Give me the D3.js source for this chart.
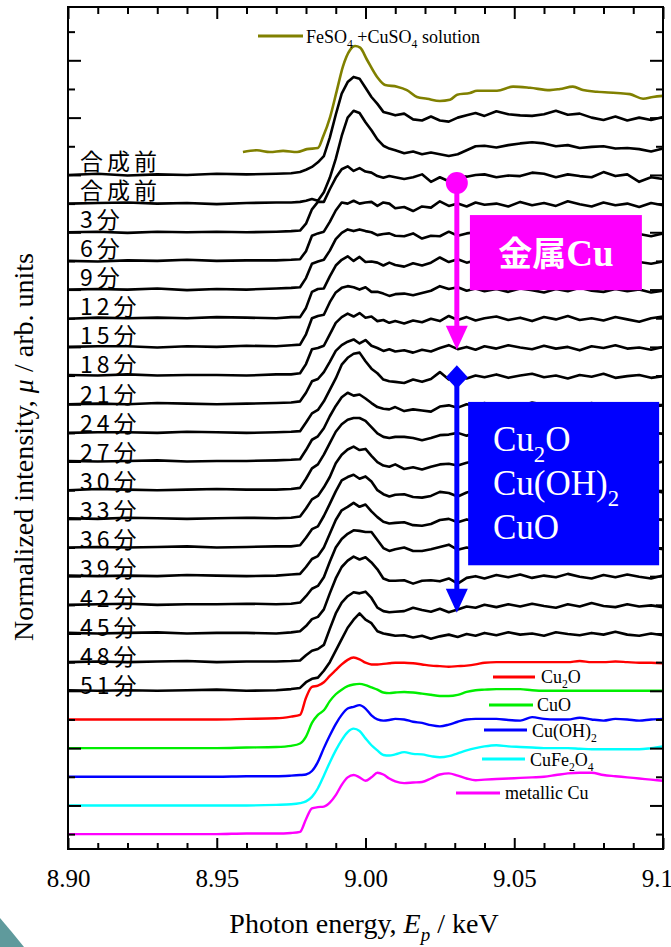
<!DOCTYPE html>
<html>
<head>
<meta charset="utf-8">
<script src="https://cdn.jsdelivr.net/npm/d3@7"></script>
<style>
body { margin: 0; background: #fff; }
svg { display: block; }
</style>
</head>
<body>
<svg width="671" height="947"></svg>
<script>
// energy grid (keV) shared by the stacked spectra
var energy = [8.900, 8.910, 8.920, 8.930, 8.940, 8.950, 8.960, 8.970, 8.975,
  8.978, 8.980, 8.982, 8.984, 8.986, 8.988, 8.990, 8.992, 8.994, 8.996, 8.998, 9.000, 9.002, 9.004, 9.006, 9.008, 9.010,
  9.013, 9.016, 9.019, 9.022, 9.025, 9.028, 9.031, 9.034, 9.037, 9.040, 9.044, 9.048, 9.052, 9.056, 9.060, 9.064,
  9.068, 9.072, 9.076, 9.080, 9.084, 9.088, 9.092, 9.096, 9.100];

// time-resolved spectra (normalized, before stacking)
var pre1 = [0.00, 0.02, -0.01, 0.01, 0.00, 0.02, 0.01, 0.02, 0.03,
  0.05, 0.09, 0.14, 0.22, 0.33, 0.65, 1.05, 1.42, 1.62, 1.71, 1.68, 1.52, 1.36, 1.24, 1.10, 1.07, 1.04,
  1.07, 0.97, 0.95, 1.02, 0.95, 0.93, 1.00, 1.04, 1.08, 1.03, 1.11, 1.06, 1.04, 1.03, 1.06, 1.12, 1.05, 1.07, 1.00, 0.96, 1.02, 0.95, 1.00, 0.96, 1.01];
var pre2 = [0.00, 0.01, 0.02, 0.00, 0.01, -0.01, 0.01, 0.02, 0.02,
  0.03, 0.05, 0.08, 0.05, 0.20, 0.45, 0.78, 1.18, 1.50, 1.62, 1.58, 1.42, 1.28, 1.12, 1.01, 0.96, 0.93,
  0.88, 0.91, 0.86, 0.89, 0.86, 0.83, 0.86, 0.93, 1.00, 1.01, 0.98, 1.02, 1.05, 1.07, 1.05, 1.00, 1.02, 0.97, 0.99, 1.00, 0.96, 0.97, 0.95, 0.91, 0.96];
var t3 = [0.00, 0.01, -0.01, 0.01, 0.00, 0.01, 0.00, 0.01, 0.02,
  0.03, 0.15, 0.40, 0.53, 0.53, 0.75, 0.95, 1.10, 1.15, 1.07, 1.12, 1.06, 1.04, 0.98, 0.95, 0.98, 0.96,
  0.93, 0.96, 1.01, 0.88, 0.96, 0.89, 0.98, 0.97, 1.00, 1.01, 0.96, 0.99, 0.98, 1.04, 1.02, 0.96, 1.01, 0.98, 0.96, 1.05, 0.98, 1.01, 0.88, 0.96, 0.93];
var t6 = [0.00, -0.01, 0.01, 0.00, 0.02, 0.00, 0.01, 0.01, 0.02,
  0.03, 0.17, 0.44, 0.48, 0.51, 0.68, 0.88, 1.02, 1.00, 1.05, 1.00, 1.02, 1.03, 0.96, 1.02, 1.00, 0.92,
  0.94, 0.87, 0.95, 0.93, 1.04, 0.96, 1.00, 0.95, 1.02, 0.98, 1.00, 0.95, 1.03, 0.97, 1.01, 0.96, 1.04, 0.99, 0.95, 1.02, 0.97, 1.00, 0.94, 1.01, 0.97];
var t9 = [0.00, 0.01, 0.00, 0.02, -0.01, 0.01, 0.00, 0.02, 0.03,
  0.04, 0.20, 0.45, 0.49, 0.52, 0.68, 0.88, 0.99, 1.05, 1.02, 1.05, 1.02, 1.00, 0.95, 0.97, 0.98, 0.94,
  0.93, 0.98, 0.89, 0.94, 0.93, 1.01, 0.94, 0.98, 1.00, 0.96, 1.02, 0.97, 1.00, 0.95, 1.03, 0.98, 0.96, 1.02, 0.97, 1.00, 0.95, 1.01, 0.97, 0.93, 0.98];
var t12 = [-0.01, 0.01, 0.00, 0.01, 0.00, 0.02, 0.01, 0.00, 0.02,
  0.02, 0.18, 0.46, 0.51, 0.52, 0.73, 0.92, 1.02, 1.08, 1.00, 1.07, 0.98, 0.99, 0.97, 0.92, 0.97, 0.93,
  0.90, 0.96, 0.92, 0.97, 1.06, 0.98, 1.03, 0.97, 1.01, 0.96, 1.00, 0.97, 1.03, 0.98, 1.01, 0.95, 1.00, 1.03, 0.97, 1.00, 0.96, 1.02, 0.98, 0.95, 0.99];
var t15 = [0.00, 0.01, 0.01, -0.01, 0.01, 0.00, 0.02, 0.01, 0.03,
  0.04, 0.22, 0.50, 0.54, 0.56, 0.78, 0.95, 1.03, 1.06, 1.04, 1.00, 1.04, 0.96, 0.96, 0.93, 0.89, 0.92,
  0.93, 0.90, 0.94, 0.98, 1.06, 1.01, 1.04, 0.98, 1.02, 0.97, 1.01, 0.96, 1.02, 0.99, 0.95, 1.01, 0.97, 1.03, 0.98, 0.96, 1.01, 0.97, 1.00, 0.95, 0.98];
var t18 = [0.01, 0.00, 0.02, 0.00, 0.01, 0.01, 0.00, 0.02, 0.02,
  0.04, 0.20, 0.46, 0.48, 0.52, 0.72, 0.92, 1.02, 1.08, 1.03, 1.09, 1.01, 1.03, 0.95, 0.97, 0.92, 0.95,
  0.91, 0.96, 0.93, 0.99, 0.95, 1.04, 0.97, 1.02, 0.96, 1.00, 1.03, 0.97, 1.01, 0.95, 1.02, 0.98, 1.04, 0.97, 1.00, 0.96, 1.02, 0.98, 0.94, 1.00, 1.03];
var t21 = [0.00, 0.01, 0.00, 0.02, 0.01, 0.00, 0.01, 0.02, 0.03,
  0.05, 0.20, 0.40, 0.44, 0.56, 0.74, 0.93, 1.03, 1.09, 1.13, 1.06, 1.12, 1.02, 0.98, 0.93, 0.96, 0.92,
  0.94, 0.90, 0.95, 0.92, 0.98, 1.03, 0.96, 1.00, 0.95, 1.01, 0.97, 1.03, 0.99, 0.96, 1.02, 0.97, 1.00, 0.94, 1.01, 0.98, 1.03, 0.97, 0.99, 0.95, 1.00];
var t24 = [0.00, 0.01, 0.01, 0.00, 0.02, 0.01, 0.00, 0.01, 0.02,
  0.03, 0.18, 0.34, 0.40, 0.55, 0.75, 0.95, 1.19, 1.31, 1.38, 1.40, 1.25, 1.12, 1.04, 0.93, 0.90, 0.89,
  0.87, 0.93, 0.89, 0.94, 1.06, 0.93, 0.98, 0.95, 1.00, 0.97, 1.02, 0.96, 1.00, 1.03, 0.97, 1.00, 0.95, 1.01, 0.98, 1.03, 0.96, 0.99, 1.01, 0.96, 0.99];
var t27 = [0.01, 0.00, 0.01, 0.02, 0.00, 0.01, 0.01, 0.02, 0.03,
  0.04, 0.20, 0.38, 0.44, 0.58, 0.79, 0.97, 1.12, 1.20, 1.15, 1.17, 1.10, 1.02, 0.95, 0.92, 0.91, 0.95,
  0.88, 0.91, 0.89, 0.87, 0.96, 0.98, 0.94, 1.00, 0.97, 1.02, 0.96, 1.01, 0.97, 1.03, 0.99, 0.95, 1.01, 0.97, 1.02, 0.96, 1.00, 0.97, 1.01, 0.96, 0.98];
var t30 = [0.00, 0.02, 0.01, 0.00, 0.01, 0.02, 0.01, 0.01, 0.02,
  0.04, 0.20, 0.38, 0.45, 0.62, 0.82, 1.02, 1.15, 1.23, 1.26, 1.26, 1.21, 1.10, 0.99, 0.93, 0.91, 0.93,
  0.93, 0.91, 0.87, 0.91, 0.96, 0.97, 1.00, 0.95, 1.01, 0.98, 1.03, 0.97, 1.00, 0.96, 1.02, 0.99, 1.03, 0.97, 1.00, 0.95, 1.01, 0.98, 0.96, 1.01, 0.98];
var t33 = [0.01, 0.00, 0.02, 0.01, 0.00, 0.01, 0.02, 0.01, 0.02,
  0.04, 0.18, 0.34, 0.40, 0.55, 0.73, 0.97, 1.12, 1.21, 1.26, 1.20, 1.22, 1.10, 0.99, 0.93, 0.91, 0.95,
  0.87, 0.90, 0.86, 0.91, 0.95, 0.96, 0.93, 0.98, 1.01, 0.96, 1.02, 0.98, 1.03, 0.97, 1.00, 0.96, 1.02, 0.98, 0.95, 1.01, 0.97, 1.02, 0.98, 0.95, 1.00];
var t36 = [0.00, 0.01, 0.00, 0.01, 0.02, 0.00, 0.01, 0.02, 0.02,
  0.04, 0.17, 0.32, 0.37, 0.55, 0.76, 0.98, 1.17, 1.23, 1.27, 1.20, 1.24, 1.15, 1.00, 0.93, 0.89, 0.92,
  0.93, 0.88, 0.87, 0.90, 0.97, 0.95, 0.89, 0.96, 1.00, 0.97, 1.02, 0.96, 1.00, 1.03, 0.97, 1.01, 0.96, 1.02, 0.98, 1.00, 0.95, 1.01, 0.97, 1.00, 0.96];
var t39 = [0.01, 0.00, 0.01, 0.00, 0.02, 0.01, 0.00, 0.01, 0.03,
  0.04, 0.16, 0.30, 0.35, 0.50, 0.74, 0.98, 1.15, 1.21, 1.28, 1.21, 1.25, 1.13, 1.03, 0.95, 0.92, 0.93,
  0.94, 0.89, 0.88, 0.91, 0.98, 1.00, 0.94, 0.99, 0.96, 1.02, 0.98, 1.01, 0.96, 1.00, 1.03, 0.97, 1.01, 0.96, 1.00, 0.97, 1.02, 0.98, 0.95, 1.00, 0.98];
var t42 = [0.00, 0.01, 0.02, 0.00, 0.01, 0.01, 0.02, 0.01, 0.02,
  0.04, 0.15, 0.28, 0.33, 0.48, 0.75, 1.00, 1.15, 1.24, 1.30, 1.29, 1.27, 1.27, 1.13, 0.99, 0.94, 0.97,
  1.00, 0.94, 0.94, 0.97, 1.01, 1.05, 0.96, 1.00, 0.97, 1.02, 0.98, 1.03, 0.97, 1.00, 0.96, 1.02, 0.99, 1.03, 0.97, 1.00, 0.96, 1.02, 0.98, 1.00, 0.97];
var t45 = [0.01, 0.00, 0.01, 0.02, 0.00, 0.01, 0.01, 0.00, 0.02,
  0.04, 0.13, 0.25, 0.29, 0.42, 0.70, 0.96, 1.16, 1.27, 1.34, 1.29, 1.33, 1.24, 1.12, 0.96, 0.92, 0.92,
  0.93, 0.87, 0.92, 0.93, 0.91, 0.96, 0.87, 0.97, 1.00, 0.96, 1.02, 0.98, 1.03, 0.97, 1.01, 0.98, 1.04, 0.99, 0.96, 1.02, 0.98, 1.03, 0.99, 0.96, 1.01];
var t48 = [0.00, 0.01, 0.00, 0.01, 0.02, 0.00, 0.01, 0.01, 0.02,
  0.03, 0.12, 0.20, 0.23, 0.30, 0.58, 0.85, 1.04, 1.15, 1.22, 1.20, 1.23, 1.12, 0.95, 0.89, 0.87, 0.88,
  0.89, 0.95, 0.91, 0.88, 0.93, 0.87, 0.92, 0.97, 0.95, 1.00, 0.96, 1.01, 0.97, 1.02, 0.98, 0.95, 1.01, 0.97, 1.03, 0.98, 0.96, 1.01, 0.97, 0.99, 0.96];
var t51 = [0.01, 0.00, 0.01, 0.00, 0.01, 0.02, 0.00, 0.01, 0.03,
  0.05, 0.15, 0.21, 0.23, 0.35, 0.50, 0.70, 0.90, 1.10, 1.24, 1.35, 1.24, 1.18, 1.04, 1.00, 0.98, 0.96,
  0.97, 0.93, 0.96, 0.91, 0.95, 0.98, 0.94, 0.99, 0.96, 1.01, 0.97, 1.02, 0.98, 1.00, 0.96, 1.02, 0.99, 0.97, 1.01, 0.98, 1.03, 0.98, 0.96, 1.00, 0.97];

var sampleSeries = [pre1, pre2, t3, t6, t9, t12, t15, t18, t21, t24, t27, t30, t33, t36, t39, t42, t45, t48, t51];
var sampleLabels = ["合成前", "合成前", "3分", "6分", "9分", "12分", "15分", "18分", "21分", "24分",
  "27分", "30分", "33分", "36分", "39分", "42分", "45分", "48分", "51分"];
var sampleOffsets = [11, 10.5, 10, 9.5, 9, 8.5, 8, 7.5, 7, 6.5, 6, 5.5, 5, 4.5, 4, 3.5, 3, 2.5, 2];

// reference compounds
var cu2o = [0, 0, 0, 0, 0, 0, 0.01, 0.02, 0.05,
  0.08, 0.38, 0.57, 0.59, 0.65, 0.76, 0.86, 0.96, 1.04, 1.08, 1.05, 0.99, 0.96, 0.96, 0.97, 0.98, 0.99,
  0.99, 0.98, 0.96, 0.94, 0.93, 0.92, 0.93, 0.94, 0.96, 0.99, 1.00, 1.00, 1.00, 1.00, 1.00, 1.00, 1.00, 1.02, 1.00, 1.00, 1.01, 1.00, 0.99, 0.99, 0.98];
var cuo = [0, 0, 0, 0, 0, 0, 0.01, 0.02, 0.04,
  0.08, 0.20, 0.44, 0.58, 0.66, 0.82, 0.94, 1.02, 1.08, 1.11, 1.12, 1.10, 1.06, 1.02, 0.97, 0.96, 0.97,
  0.98, 0.97, 0.95, 0.93, 0.91, 0.91, 0.93, 0.98, 1.01, 1.02, 1.03, 1.03, 1.03, 1.01, 1.00, 1.00, 1.00, 1.00, 1.00, 1.00, 1.00, 1.00, 1.00, 1.00, 1.00];
var cuoh2 = [0, 0, 0, 0, 0, 0, 0.01, 0.01, 0.02,
  0.03, 0.04, 0.10, 0.26, 0.50, 0.72, 0.92, 1.08, 1.19, 1.22, 1.25, 1.19, 1.07, 1.00, 0.98, 0.99, 1.01,
  1.00, 0.96, 0.94, 0.90, 0.88, 0.91, 0.96, 1.00, 1.01, 1.01, 1.01, 0.99, 0.98, 1.04, 1.01, 1.00, 1.00, 1.03, 1.00, 0.98, 1.01, 1.00, 0.98, 1.00, 1.01];
var cufe2o4 = [0, 0, 0, 0, 0, 0, 0, 0.01, 0.02,
  0.04, 0.07, 0.15, 0.30, 0.52, 0.75, 0.96, 1.14, 1.28, 1.34, 1.30, 1.17, 1.05, 0.96, 0.88, 0.87, 0.89,
  0.93, 0.90, 0.89, 0.86, 0.84, 0.86, 0.91, 0.96, 1.00, 1.03, 1.05, 1.03, 1.02, 1.01, 1.00, 1.00, 1.00, 0.99, 0.98, 0.98, 0.98, 0.98, 0.98, 1.00, 1.03];
var cuMetal = [0, 0, 0, 0, 0, 0, 0.01, 0.01, 0.02,
  0.04, 0.26, 0.45, 0.47, 0.48, 0.55, 0.68, 0.86, 0.99, 1.03, 0.99, 0.93, 0.99, 1.07, 1.04, 0.97, 0.92,
  0.89, 0.90, 0.91, 0.97, 1.04, 1.06, 1.02, 0.97, 0.94, 0.95, 0.96, 0.97, 0.98, 0.99, 1.00, 1.03, 1.06, 1.07, 1.07, 1.03, 1.01, 0.99, 0.97, 0.95, 0.93];

var refSeries = [cu2o, cuo, cuoh2, cufe2o4, cuMetal];
var refNames = ["Cu_2O", "CuO", "Cu(OH)_2", "CuFe_2O_4", "metallic Cu"];
var refColors = ["#ff0000", "#00ee00", "#0000ff", "#00ffff", "#ff00ff"];
var refOffsets = [1.5, 1, 0.5, 0, -0.5];

// FeSO4 + CuSO4 solution
var feEnergy = [8.9588, 8.9635, 8.9679, 8.9723, 8.9770, 8.9803, 8.9840, 8.9857, 8.9881, 8.9904,
  8.9924, 8.9948, 8.9965, 8.9982, 9.0005, 9.0039, 9.0066, 9.0106, 9.0139, 9.0173,
  9.0207, 9.0250, 9.0284, 9.0308, 9.0351, 9.0375, 9.0442, 9.0496, 9.0553, 9.0620,
  9.0654, 9.0697, 9.0731, 9.0778, 9.0845, 9.0889, 9.0933, 9.0966, 9.1000];
var feSolution = [0.00, 0.03, 0.00, 0.02, 0.00, 0.05, 0.07, 0.26, 0.61, 1.08,
  1.49, 1.78, 1.85, 1.82, 1.61, 1.31, 1.17, 1.14, 1.08, 0.96,
  0.93, 0.89, 0.91, 1.00, 1.03, 1.07, 1.07, 1.14, 1.12, 1.08,
  1.10, 1.14, 1.08, 1.05, 1.03, 1.01, 0.93, 0.96, 0.98];
var feOffset = 11.4;

var xMajor = [8.90, 8.95, 9.00, 9.05, 9.10];

var serif = "'Liberation Serif', 'Times New Roman', serif";
var cjk = "'Noto Sans CJK JP', 'Noto Sans CJK SC', sans-serif";

var svg = d3.select("svg");

var x = d3.scaleLinear().domain([8.90, 9.10]).range([68, 663]);
var y = d3.scaleLinear().domain([-0.76, 13.93]).range([849, 7]);

function lineFor(off, xs, curve) {
  return d3.line()
    .x(function(d, i) { return x(xs[i]); })
    .y(function(d) { return y(d + off); })
    .curve(curve);
}

// text with _x subscripts
function richText(sel, str, size) {
  var parts = str.split(/(_.)/);
  var down = false;
  parts.forEach(function(p) {
    if (!p) return;
    if (p[0] === "_") {
      sel.append("tspan").attr("dy", down ? 0 : size * 0.3).attr("font-size", size * 0.65).text(p[1]);
      down = true;
    } else {
      sel.append("tspan").attr("dy", down ? -size * 0.3 : 0).text(p);
      down = false;
    }
  });
}

// decoration bottom-left
svg.append("path")
  .attr("d", "M0,918 Q12,932 24,947 L0,947 Z")
  .attr("fill", "#5f9a9c");

// reference spectra
refSeries.forEach(function(s, i) {
  svg.append("path")
    .datum(s)
    .attr("fill", "none")
    .attr("stroke", refColors[i])
    .attr("stroke-width", 2.4)
    .attr("d", lineFor(refOffsets[i], energy, d3.curveMonotoneX));
});

// sample spectra
sampleSeries.forEach(function(s, i) {
  svg.append("path")
    .datum(s)
    .attr("fill", "none")
    .attr("stroke", "#000")
    .attr("stroke-width", 2.6)
    .attr("stroke-linejoin", "round")
    .attr("d", lineFor(sampleOffsets[i], energy, d3.curveLinear));
});

svg.append("path")
  .datum(feSolution)
  .attr("fill", "none")
  .attr("stroke", "#808000")
  .attr("stroke-width", 2.6)
  .attr("d", lineFor(feOffset, feEnergy, d3.curveMonotoneX));

// sample labels
var labelY = d3.scaleLinear().domain([0, sampleLabels.length - 1]).range([169.5, 694]);
svg.append("g").selectAll("text")
  .data(sampleLabels)
  .enter().append("text")
  .attr("x", 80)
  .attr("y", function(d, i) { return labelY(i); })
  .attr("font-family", cjk)
  .attr("font-size", 23)
  .attr("letter-spacing", 4)
  .attr("fill", "#000")
  .text(function(d) { return d; });

// axes (ticks pointing inward)
function styleAxis(g) {
  g.select(".domain").remove();
  g.selectAll(".tick line").attr("stroke", "#000").attr("stroke-width", 2);
}
var xMinor = d3.range(8.90, 9.1001, 0.01).filter(function(v) {
  return xMajor.every(function(m) { return Math.abs(m - v) > 1e-6; });
});
var yMajor = d3.range(0, 14, 1);
var yMinor = d3.range(-0.5, 14, 1);

var bottom = svg.append("g").attr("transform", "translate(0,849)")
  .call(d3.axisBottom(x).tickValues(xMajor).tickSizeInner(-11).tickSizeOuter(0).tickPadding(20)
    .tickFormat(d3.format(".2f")))
  .call(styleAxis);
bottom.attr("font-family", serif).attr("font-size", 25);
bottom.selectAll("text").attr("fill", "#000");

svg.append("g").attr("transform", "translate(0,849)")
  .call(d3.axisBottom(x).tickValues(xMinor).tickSizeInner(-6).tickSizeOuter(0).tickFormat(""))
  .call(styleAxis);
svg.append("g").attr("transform", "translate(0,7)")
  .call(d3.axisTop(x).tickValues(xMajor).tickSizeInner(-12).tickSizeOuter(0).tickFormat(""))
  .call(styleAxis);
svg.append("g").attr("transform", "translate(0,7)")
  .call(d3.axisTop(x).tickValues(xMinor).tickSizeInner(-7).tickSizeOuter(0).tickFormat(""))
  .call(styleAxis);
svg.append("g").attr("transform", "translate(68,0)")
  .call(d3.axisLeft(y).tickValues(yMajor).tickSizeInner(-13).tickSizeOuter(0).tickFormat(""))
  .call(styleAxis);
svg.append("g").attr("transform", "translate(68,0)")
  .call(d3.axisLeft(y).tickValues(yMinor).tickSizeInner(-7).tickSizeOuter(0).tickFormat(""))
  .call(styleAxis);
svg.append("g").attr("transform", "translate(663,0)")
  .call(d3.axisRight(y).tickValues(yMajor).tickSizeInner(-13).tickSizeOuter(0).tickFormat(""))
  .call(styleAxis);
svg.append("g").attr("transform", "translate(663,0)")
  .call(d3.axisRight(y).tickValues(yMinor).tickSizeInner(-7).tickSizeOuter(0).tickFormat(""))
  .call(styleAxis);

svg.append("rect")
  .attr("x", 68).attr("y", 7)
  .attr("width", 663 - 68).attr("height", 849 - 7)
  .attr("fill", "none").attr("stroke", "#000").attr("stroke-width", 2);

// axis titles
var xt = svg.append("text")
  .attr("x", 364).attr("y", 933)
  .attr("text-anchor", "middle")
  .attr("font-family", serif).attr("font-size", 28);
xt.append("tspan").text("Photon energy, ");
xt.append("tspan").attr("font-style", "italic").text("E");
xt.append("tspan").attr("font-style", "italic").attr("font-size", 19).attr("dy", 8).text("p");
xt.append("tspan").attr("dy", -8).text(" / keV");

var yt = svg.append("text")
  .attr("transform", "translate(33,447) rotate(-90)")
  .attr("text-anchor", "middle")
  .attr("font-family", serif).attr("font-size", 28);
yt.append("tspan").text("Normalized intensity, ");
yt.append("tspan").attr("font-style", "italic").text("\u03bc");
yt.append("tspan").text(" / arb. units");

// legends
var feLeg = svg.append("g");
feLeg.append("line").attr("x1", 258).attr("x2", 303).attr("y1", 36).attr("y2", 36)
  .attr("stroke", "#808000").attr("stroke-width", 3);
richText(feLeg.append("text").attr("x", 306).attr("y", 43)
  .attr("font-family", serif).attr("font-size", 18), "FeSO_4 +CuSO_4 solution", 18);

var legPos = [[493, 535, 677, 541, 683], [489, 533, 705, 537, 711], [484, 527, 730, 532, 737],
  [482, 525, 759, 530, 766], [456, 500, 793, 505, 799]];
refNames.forEach(function(n, i) {
  var p = legPos[i];
  svg.append("line").attr("x1", p[0]).attr("x2", p[1]).attr("y1", p[2]).attr("y2", p[2])
    .attr("stroke", refColors[i]).attr("stroke-width", 3);
  richText(svg.append("text").attr("x", p[3]).attr("y", p[4])
    .attr("font-family", serif).attr("font-size", 18), n, 18);
});

// annotations
var arrowX = x(9.0307);
var magenta = "#ff00ff", blue = "#0000ff";

svg.append("line").attr("x1", arrowX).attr("x2", arrowX).attr("y1", y(10.86)).attr("y2", y(8.3))
  .attr("stroke", magenta).attr("stroke-width", 5);
svg.append("circle").attr("cx", arrowX).attr("cy", y(10.86)).attr("r", 11).attr("fill", magenta);
svg.append("path")
  .attr("d", "M" + (arrowX - 11) + "," + y(8.37) + "L" + (arrowX + 11) + "," + y(8.37) + "L" + arrowX + "," + y(7.95) + "Z")
  .attr("fill", magenta);

svg.append("rect")
  .attr("x", x(9.0351)).attr("y", y(10.30))
  .attr("width", x(9.0929) - x(9.0351)).attr("height", y(8.99) - y(10.30))
  .attr("fill", magenta);
var mt = svg.append("text")
  .attr("x", (x(9.0351) + x(9.0929)) / 2).attr("y", 266)
  .attr("text-anchor", "middle").attr("fill", "#fff");
mt.append("tspan").attr("font-family", cjk).attr("font-weight", 700).attr("font-size", 34).text("金属");
mt.append("tspan").attr("font-family", serif).attr("font-weight", 700).attr("font-size", 37).text("Cu");

svg.append("line").attr("x1", arrowX).attr("x2", arrowX).attr("y1", y(7.5)).attr("y2", y(3.75))
  .attr("stroke", blue).attr("stroke-width", 5);
svg.append("path")
  .attr("d", "M" + arrowX + "," + y(7.68) + "L" + (arrowX + 11) + "," + y(7.47) + "L" + arrowX + "," + y(7.27) +
    "L" + (arrowX - 11) + "," + y(7.47) + "Z")
  .attr("fill", blue);
svg.append("path")
  .attr("d", "M" + (arrowX - 11) + "," + y(3.78) + "L" + (arrowX + 11) + "," + y(3.78) + "L" + arrowX + "," + y(3.36) + "Z")
  .attr("fill", blue);

svg.append("rect")
  .attr("x", x(9.0345)).attr("y", y(7.04))
  .attr("width", x(9.0987) - x(9.0345)).attr("height", y(4.19) - y(7.04))
  .attr("fill", blue);
var boxLines = ["Cu_2O", "Cu(OH)_2", "CuO"];
boxLines.forEach(function(t, i) {
  richText(svg.append("text").attr("x", 493).attr("y", 451 + i * 44)
    .attr("font-family", serif).attr("font-size", 35).attr("fill", "#fff"), t, 35);
});
</script>
</body>
</html>
